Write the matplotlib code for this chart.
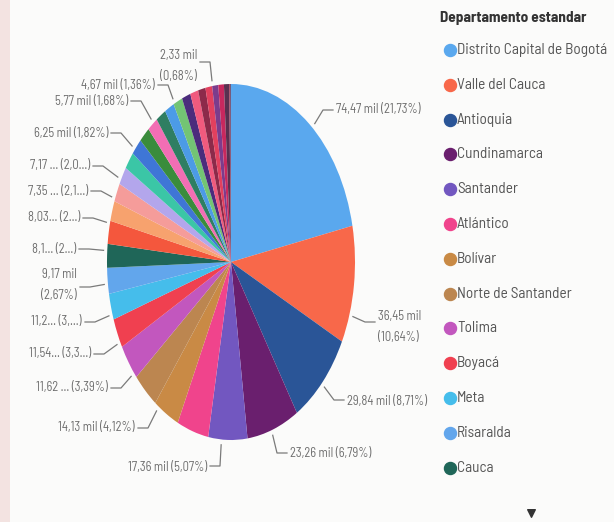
import numpy as np
import matplotlib.pyplot as plt
from matplotlib.patches import Rectangle

# datos: departamentos ordenados por valor (mil)
departamentos = ["Distrito Capital de Bogotá", "Valle del Cauca", "Antioquia", "Cundinamarca",
                 "Santander", "Atlántico", "Bolívar", "Norte de Santander", "Tolima", "Boyacá",
                 "Meta", "Risaralda", "Cauca",
                 "Nariño", "Córdoba", "Cesar", "Magdalena", "Huila", "Caldas", "Quindío",
                 "Sucre", "La Guajira", "Casanare", "Caquetá", "Chocó", "Putumayo", "Arauca",
                 "San Andrés", "Amazonas", "Guaviare", "Vichada", "Guainía", "Vaupés"]
valores = [74.47, 36.45, 29.84, 23.26, 17.36, 14.13, 11.62, 11.54, 11.2, 9.17, 8.1, 8.03, 7.35,
           7.17, 6.25, 5.77, 5.6, 5.45, 5.2, 4.95, 4.67, 4.5, 4.3, 4.1, 3.9, 3.6, 3.3, 3.0,
           2.7, 2.5, 2.33, 0.5, 0.29]
colores = ["#5AA8EE", "#F8684A", "#2A5597", "#6A1F6E", "#7257C0", "#F0448C", "#C98A45",
           "#BC8650", "#C257BE", "#F04050", "#45BDEB", "#62A6EC", "#1F6658",
           "#F4573D", "#F7A26E", "#F59C9A", "#B3A6EC", "#3BC6A6", "#3F76D6", "#3A8C3C",
           "#F26EB4", "#2F7E62", "#4C9BE6", "#73C474", "#4B2C7C", "#F05A7E", "#8C2A4A",
           "#E2405E", "#7C3C8C", "#C8285E", "#5A3050", "#A03050", "#3A2A5A"]

# etiquetas de datos visibles
etiquetas = ["74,47 mil (21,73%)", "36,45 mil\n(10,64%)", "29,84 mil (8,71%)",
             "23,26 mil (6,79%)", "17,36 mil (5,07%)", "14,13 mil (4,12%)",
             "11,62 ... (3,39%)", "11,54... (3,3...)", "11,2... (3,...)",
             "9,17 mil\n(2,67%)", "8,1... (2...)", "8,03... (2...)",
             "7,35 ... (2,1...)", "7,17 ... (2,0...)", "6,25 mil (1,82%)",
             "5,77 mil (1,68%)", "4,67 mil (1,36%)", "2,33 mil\n(0,68%)"]
# posición del texto en px (x del borde, y, lado, y de la línea)
pos_etiquetas = [(336, 110, "l", 110), (378, 327, "l", 322), (347, 402, "l", 400),
                 (290, 454, "l", 453), (207, 467, "r", 466), (135, 428, "r", 428),
                 (108, 388, "r", 388), (91, 354, "r", 354), (82, 322, "r", 322),
                 (77, 285, "r", 287), (76, 250, "r", 249), (80, 218, "r", 218),
                 (88, 191, "r", 191), (90, 166, "r", 166), (108, 133, "r", 133),
                 (128, 101, "r", 101), (155, 85, "r", 85), (197, 66, "r", 62)]

W, H = 614, 522
fig = plt.figure(figsize=(W / 100, H / 100), dpi=100)
fig.patch.set_facecolor("#FBFBFA")
fuente = ["Barlow Semi Condensed", "DejaVu Sans"]

# capa en píxeles
base = fig.add_axes([0, 0, 1, 1])
base.set_xlim(0, W)
base.set_ylim(H, 0)
base.axis("off")
base.add_patch(Rectangle((0, 0), 10, H, color="#F3E3E1", lw=0))

# pie elíptico (foto en perspectiva)
cx, cy, rx, ry = 231, 262, 124, 178
ax = fig.add_axes([(cx - rx) / W, 1 - (cy + ry) / H, 2 * rx / W, 2 * ry / H])
wedges, _ = ax.pie(valores, colors=colores, startangle=90, counterclock=False,
                   radius=1, wedgeprops=dict(linewidth=0))
ax.set_aspect("auto")
ax.set_xlim(-1, 1)
ax.set_ylim(-1, 1)
ax.axis("off")

a_base = base.transData.inverted()

# etiquetas con líneas guía
for txt, (tx, ty, lado, ly) in zip(etiquetas, pos_etiquetas):
    if lado == "l":
        base.text(tx, ty, txt, ha="left", va="center", fontsize=9, color="#6E6E6E",
                  family=fuente, linespacing=1.8)
        x0, ex = tx - 3, tx - 13
    else:
        base.text(tx, ty, txt, ha="right", va="center", fontsize=9, color="#6E6E6E",
                  family=fuente, linespacing=1.8, multialignment="center")
        x0, ex = tx + 3, tx + 13
    # punto del borde del pie en la dirección del codo
    e_pie = ax.transData.inverted().transform(base.transData.transform((ex, ly)))
    n = np.hypot(e_pie[0], e_pie[1])
    px, py = a_base.transform(ax.transData.transform(e_pie / n * 1.03))
    base.plot([x0, ex, px], [ly, ly, py], color="#7A7A7A", lw=0.9)

# leyenda
base.text(440, 18, "Departamento estandar", fontsize=11, fontweight="bold", color="#333333",
          family=fuente, ha="left", va="center")
for k in range(13):
    y = 50 + k * 34.8
    base.scatter([450], [y], s=75, color=colores[k], zorder=3)
    base.text(457, y, departamentos[k], fontsize=11, color="#555555", family=fuente,
              ha="left", va="center")
base.scatter([531], [513], marker="v", s=30, color="#333333")

plt.savefig("out.png", dpi=100, facecolor=fig.get_facecolor())
